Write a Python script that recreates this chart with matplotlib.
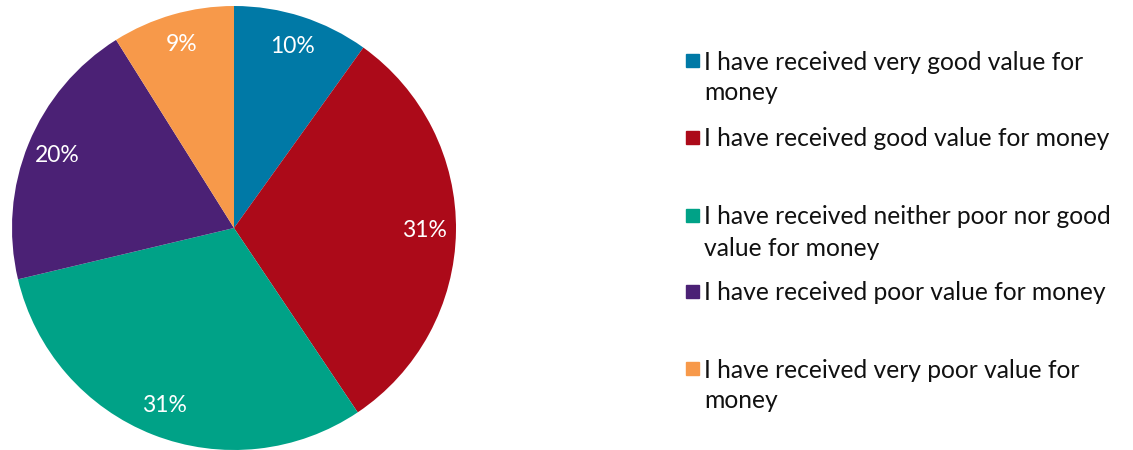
import matplotlib.pyplot as plt

# survey responses on value for money
labels = [
    "I have received very good value for\nmoney",
    "I have received good value for money",
    "I have received neither poor nor good\nvalue for money",
    "I have received poor value for money",
    "I have received very poor value for\nmoney",
]
values = [10, 31, 31, 20, 9]
colors = ["#0079A6", "#AC0A19", "#00A287", "#4B2175", "#F7994A"]

plt.rcParams['font.family'] = ['Lato', 'DejaVu Sans']

W, H = 1133, 450
fig = plt.figure(figsize=(W / 100, H / 100), dpi=100)

# pie axes: centre (234, 228), radius 222 px
cx, cy, r = 234, 228, 222
ax = fig.add_axes([(cx - r) / W, (H - cy - r) / H, 2 * r / W, 2 * r / H])
wedges, texts, autotexts = ax.pie(
    values, colors=colors, startangle=90, counterclock=False,
    labels=None, autopct=lambda p: "", pctdistance=0.86, radius=1,
)
# percentage labels show the raw values
for t, v in zip(autotexts, values):
    t.set_text(f"{v}%")
    t.set_color("white")
    t.set_fontsize(16.5)
ax.set_xlim(-1, 1)
ax.set_ylim(-1, 1)
ax.set_aspect("equal")
ax.axis("off")

# legend drawn by hand, one text per line
legend_y = [60, 137, 215, 291, 368]
line_gap = 31
for lab, col, y in zip(labels, colors, legend_y):
    fig.patches.append(plt.Rectangle((686 / W, (H - y - 6.5) / H), 13 / W, 13 / H,
                                     transform=fig.transFigure, color=col))
    for i, line in enumerate(lab.split("\n")):
        fig.text(704 / W, (H - y - i * line_gap) / H, line, fontsize=17.7,
                 va="center_baseline", ha="left", color="#111111")

plt.savefig("out.png", dpi=100)
